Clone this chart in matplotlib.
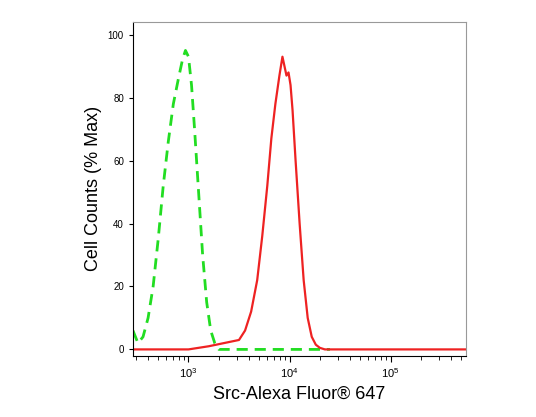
import numpy as np
import matplotlib.pyplot as plt

plt.rcParams['font.family'] = ['Liberation Sans', 'DejaVu Sans']

# log10 of fluorescence, % max
green_logx = [2.45, 2.50, 2.55, 2.60, 2.65, 2.70, 2.75, 2.80, 2.85, 2.90, 2.94, 2.97, 3.00, 3.03,
              3.06, 3.10, 3.14, 3.18, 3.22, 3.26, 3.30, 3.40, 3.60, 4.00, 4.40]
green_y = [6, 2, 4, 10, 20, 35, 52, 66, 78, 86, 92, 95, 93, 84, 70, 50, 30, 15, 6, 2, 0, 0, 0, 0, 0]

red_logx = [2.45, 2.80, 3.00, 3.20, 3.35, 3.50, 3.56, 3.62, 3.68, 3.73, 3.78, 3.82, 3.86, 3.90, 3.93, 3.95,
            3.97, 3.99, 4.01, 4.03, 4.06, 4.10, 4.14, 4.18, 4.22, 4.26, 4.30, 4.35, 4.40, 5.00, 5.75]
red_y = [0, 0, 0, 1, 2, 3, 6, 12, 22, 36, 52, 67, 78, 87, 93, 90, 87, 88, 84, 76, 60, 40, 22, 10, 4, 1.5, 0.5, 0, 0, 0, 0]

fig = plt.figure(figsize=(5.36, 4.17), dpi=100)
ax = fig.add_axes([0.248, 0.147, 0.622, 0.8])
ax.plot(10 ** np.array(green_logx), green_y, color='#22dd22', lw=2, ls=(0, (4, 2.5)))
ax.plot(10 ** np.array(red_logx), red_y, color='#ee2222', lw=1.6)
ax.set_xscale('log')
ax.set_xlim(10 ** 2.45, 10 ** 5.75)
ax.set_ylim(-2, 104)
ax.set_yticks([0, 20, 40, 60, 80, 100])
ax.tick_params(axis='y', labelsize=7, length=3)
ax.tick_params(axis='x', labelsize=8, length=4)
ax.tick_params(axis='x', which='minor', length=3)
for s in ax.spines.values():
    s.set_color('#999999')
ax.spines['bottom'].set_color('black')
ax.spines['left'].set_color('black')
ax.set_xlabel('Src-Alexa Fluor® 647', fontsize=13)
ax.set_ylabel('Cell Counts (% Max)', fontsize=13)
fig.savefig('out.png')
